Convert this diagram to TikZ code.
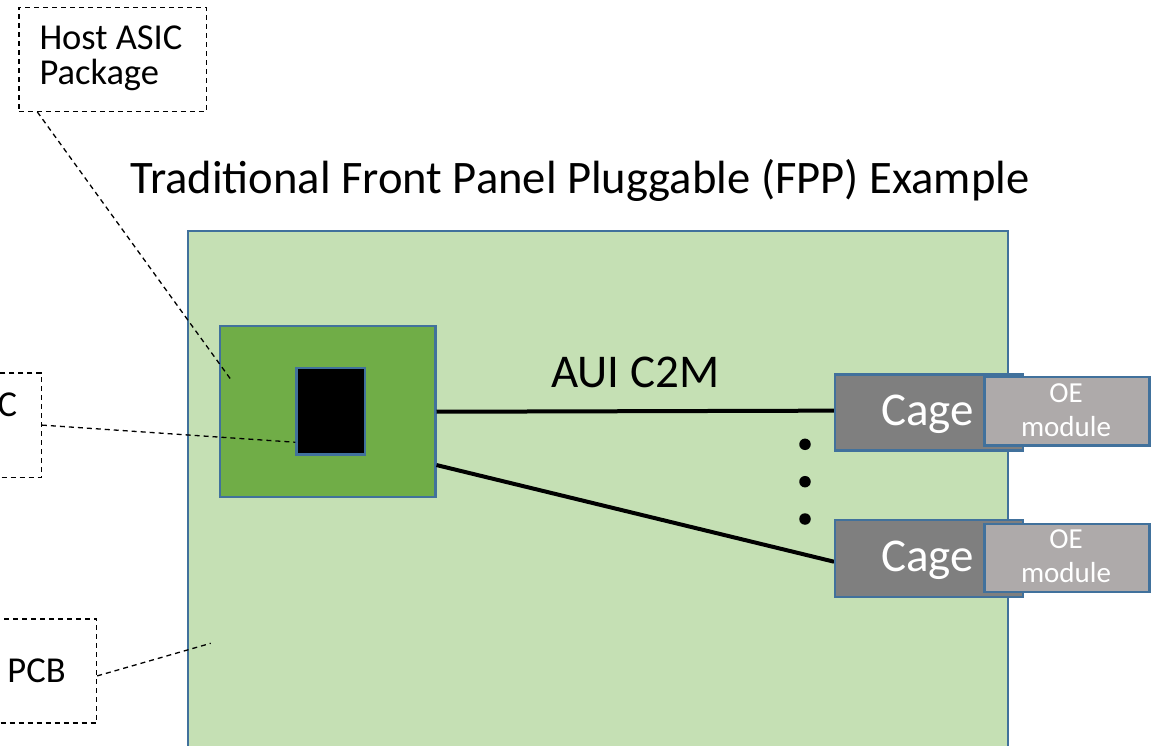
\documentclass[tikz,border=0pt]{standalone}
\usepackage{fontspec}
\setmainfont{Carlito}
\definecolor{pcbgreen}{HTML}{C5E0B4}
\definecolor{pkggreen}{HTML}{70AD47}
\definecolor{edgeblue}{HTML}{41719C}
\definecolor{cagegray}{HTML}{7F7F7F}
\definecolor{modgray}{HTML}{AEAAAA}
\begin{document}
\begin{tikzpicture}[x=1pt,y=-1pt,
  box/.style={rectangle, inner sep=0pt, anchor=north west},
  part/.style={box, draw=edgeblue, line width=2.2pt},
  callout/.style={box, draw=black, dash pattern=on 5pt off 4pt, line width=1.2pt},
  leader/.style={draw=black, dash pattern=on 5pt off 4pt, line width=1.3pt},
  link/.style={draw=black, line width=4pt},
  txt/.style={inner sep=0pt, anchor=base west},
  big/.style={font=\fontsize{46.6}{50}\selectfont},
  mid/.style={font=\fontsize{47}{50}\selectfont},
  lab/.style={font=\fontsize{36.5}{40}\selectfont},
  small/.style={font=\fontsize{29}{32}\selectfont},
  dot/.style={circle, fill=black, inner sep=0pt, minimum size=11.5pt}]
\useasboundingbox (0,0) rectangle (1163,746);
\clip (0,0) rectangle (1163,746);

% title
\node[txt, big] (title) at (130,193.3) {Traditional Front Panel Pluggable (FPP) Example};

% board, package and die
\node[part, fill=pcbgreen, minimum width=820pt, minimum height=560pt] (pcb) at (186.5,230) {};
\node[part, fill=pkggreen, minimum width=215.3pt, minimum height=170.7pt] (pkg) at (219,325.3) {};
\node[part, fill=black, minimum width=68.4pt, minimum height=86.3pt] (die) at (295.3,367) {};

% host interface
\node[txt, mid] (aui) at (551,387.7) {AUI C2M};
\draw[link] (pkg.east) -- (834,410.65) coordinate (c1end);
\coordinate (c2end) at (834,561.7);
\draw[link] ([yshift=-53.3pt]pkg.east) -- (c2end);

% cages and modules
\node[part, fill=cagegray, minimum width=187.7pt, minimum height=76pt] (cage1) at (834,373.3) {};
\node[part, fill=cagegray, minimum width=187.7pt, minimum height=76.7pt] (cage2) at (834,519) {};
\node[txt, mid, white] (cagetxt1) at (881,425) {Cage};
\node[txt, mid, white] (cagetxt2) at (881,571) {Cage};
\node[part, fill=modgray, minimum width=165pt, minimum height=68.3pt] (oe1) at (983.3,376) {};
\node[part, fill=modgray, minimum width=165pt, minimum height=68pt] (oe2) at (983.3,522.7) {};
\node[inner sep=0pt, anchor=base, small, white] (oe1a) at (1066,402.7) {OE};
\node[inner sep=0pt, anchor=base, small, white] (oe1b) at (1066,436.7) {module};
\node[inner sep=0pt, anchor=base, small, white] (oe2a) at (1066,548.7) {OE};
\node[inner sep=0pt, anchor=base, small, white] (oe2b) at (1066,582.7) {module};

% more ports in between
\node[dot] (dot1) at (805,444.3) {};
\node[dot] (dot2) at (805,481.7) {};
\node[dot] (dot3) at (805,519) {};

% callouts
\node[callout, minimum width=187.4pt, minimum height=104pt] (pkglbl) at (18.3,6.7) {};
\node[txt, lab] (pkgtxt1) at (39.3,49.3) {Host ASIC};
\node[txt, lab] (pkgtxt2) at (39.3,84.5) {Package};
\coordinate (pkgtip) at (231.7,380.7);
\draw[leader] ([xshift=19pt]pkglbl.south west) -- (pkgtip);

\node[callout, minimum width=120.7pt, minimum height=104.4pt] (asiclbl) at (-80,372.3) {};
\node[inner sep=0pt, anchor=base east, lab] (asictxt) at (17.3,416) {ASIC};
\draw[leader] (asiclbl.east) -- ([yshift=-31pt]die.west);

\node[callout, minimum width=123pt, minimum height=104pt] (pcblbl) at (-27,618.3) {};
\node[txt, lab] (pcbtxt) at (7.3,682.7) {PCB};
\coordinate (pcbtip) at (210.7,643.3);
\draw[leader] ([yshift=-5pt]pcblbl.east) -- (pcbtip);
\end{tikzpicture}
\end{document}
